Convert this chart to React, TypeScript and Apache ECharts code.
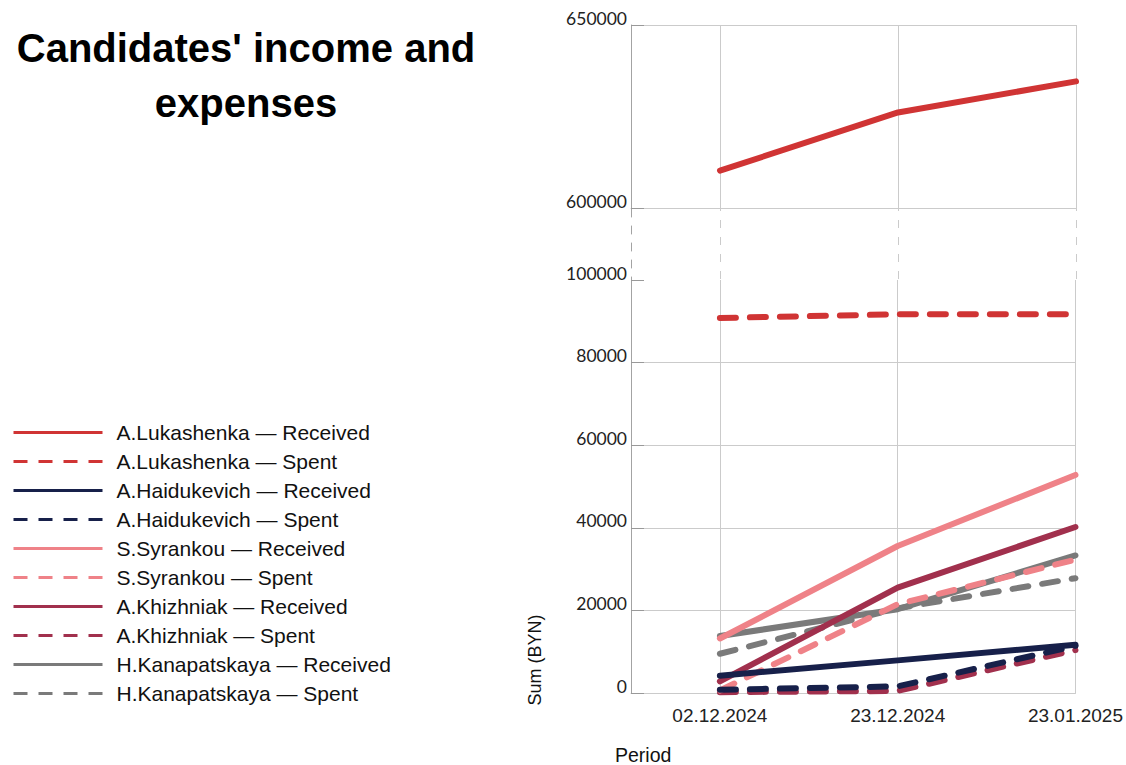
import React, { useEffect, useRef } from "react";
import * as echarts from "echarts";

const DATES = ["02.12.2024", "23.12.2024", "23.01.2025"];

const LUK_RECEIVED = [610200, 626100, 634600];
const LUK_SPENT = [90800, 91700, 91700];
const HAI_RECEIVED = [4200, 7900, 11700];
const HAI_SPENT = [800, 1600, 11400];
const SYR_RECEIVED = [13200, 35600, 52800];
const SYR_SPENT = [600, 21500, 32300];
const KHI_RECEIVED = [2800, 25500, 40200];
const KHI_SPENT = [200, 500, 10400];
const KAN_RECEIVED = [13800, 20300, 33300];
const KAN_SPENT = [9500, 20500, 27800];

const TOP_TICKS = [600000, 650000];
const BOTTOM_TICKS = [0, 20000, 40000, 60000, 80000, 100000];

const COLORS = {
  luk: "#d03434",
  hai: "#17204a",
  syr: "#ef8288",
  khi: "#a1304d",
  kan: "#7a7a7a",
};

const SERIES_DEFS = [
  { name: "A.Lukashenka — Received", color: COLORS.luk, dashed: false, data: LUK_RECEIVED, top: true },
  { name: "A.Lukashenka — Spent", color: COLORS.luk, dashed: true, data: LUK_SPENT, top: false },
  { name: "A.Haidukevich — Received", color: COLORS.hai, dashed: false, data: HAI_RECEIVED, top: false },
  { name: "A.Haidukevich — Spent", color: COLORS.hai, dashed: true, data: HAI_SPENT, top: false },
  { name: "S.Syrankou — Received", color: COLORS.syr, dashed: false, data: SYR_RECEIVED, top: false },
  { name: "S.Syrankou — Spent", color: COLORS.syr, dashed: true, data: SYR_SPENT, top: false },
  { name: "A.Khizhniak — Received", color: COLORS.khi, dashed: false, data: KHI_RECEIVED, top: false },
  { name: "A.Khizhniak — Spent", color: COLORS.khi, dashed: true, data: KHI_SPENT, top: false },
  { name: "H.Kanapatskaya — Received", color: COLORS.kan, dashed: false, data: KAN_RECEIVED, top: false },
  { name: "H.Kanapatskaya — Spent", color: COLORS.kan, dashed: true, data: KAN_SPENT, top: false },
];

// Each date gets a slot preceded by an empty half-step slot
const SLOTS = DATES.flatMap((d) => ["", d]);
const toSlots = (vals: number[]) => vals.flatMap((v) => [null, v]);

const GRID_LINE = "#cbcbcb";
const AXIS_LINE = "#a3a3a3";
const SANS = "Liberation Sans";

function buildOption() {
  const catAxis = (gridIndex: number, opts: any) => ({
    type: "category",
    gridIndex,
    data: SLOTS,
    boundaryGap: false,
    axisTick: { show: false },
    axisLabel: { show: false },
    axisLine: { show: true, lineStyle: { color: GRID_LINE, width: 1 } },
    splitLine: {
      show: true,
      interval: (i: number) => i % 2 === 1,
      lineStyle: { color: GRID_LINE, width: 1 },
    },
    ...opts,
  });

  const valAxis = (gridIndex: number, ticks: number[]) => ({
    type: "value",
    gridIndex,
    min: ticks[0],
    max: ticks[ticks.length - 1],
    interval: ticks[1] - ticks[0],
    axisLine: { show: true, lineStyle: { color: AXIS_LINE, width: 1 } },
    axisTick: { show: true, inside: true, length: 13, lineStyle: { color: "#999999" } },
    axisLabel: {
      show: true,
      fontFamily: "Lato",
      fontSize: 17.5,
      color: "#222222",
      margin: 4,
      verticalAlign: "bottom",
      lineHeight: 14,
      formatter: (v: number) => String(v),
    },
    splitLine: { show: true, showMaxLine: gridIndex === 0, lineStyle: { color: GRID_LINE, width: 1 } },
  });

  return {
    animation: false,
    backgroundColor: "#ffffff",
    grid: [
      { left: 631, right: 50, top: 25, height: 183 },
      { left: 631, right: 50, top: 208, height: 72 },
      { left: 631, right: 50, top: 280, height: 413 },
    ],
    xAxis: [
      catAxis(0, {}),
      catAxis(1, {
        axisLine: { show: false },
        splitLine: {
          show: true,
          interval: (i: number) => i % 2 === 1,
          lineStyle: { color: GRID_LINE, width: 1, type: [8, 9], dashOffset: -12 },
        },
      }),
      catAxis(2, {
        axisLabel: {
          show: true,
          interval: 0,
          fontFamily: SANS,
          fontSize: 19,
          color: "#222222",
          margin: 13,
        },
      }),
    ],
    yAxis: [
      valAxis(0, TOP_TICKS),
      {
        type: "value",
        gridIndex: 1,
        min: 0,
        max: 1,
        axisLine: { show: true, lineStyle: { color: AXIS_LINE, width: 1, type: [8, 9], dashOffset: -12 } },
        axisTick: { show: false },
        axisLabel: { show: false },
        splitLine: { show: false },
      },
      valAxis(2, BOTTOM_TICKS),
    ],
    legend: {
      orient: "vertical",
      left: 7,
      top: 417,
      itemWidth: 89,
      itemHeight: 20,
      itemGap: 8,
      selectedMode: false,
      textStyle: {
        fontFamily: SANS,
        fontSize: 21,
        color: "#111111",
        padding: [0, 0, 0, 9],
        lineHeight: 20,
      },
      data: SERIES_DEFS.map((s) => ({
        name: s.name,
        itemStyle: { opacity: 0 },
        lineStyle: { width: 3, type: s.dashed ? [14, 11] : "solid", cap: "butt", color: s.color, opacity: 1 },
      })),
    },
    graphic: [
      {
        type: "text",
        x: 246,
        y: 20,
        style: {
          text: "Candidates' income and\nexpenses",
          fontFamily: SANS,
          fontWeight: "bold",
          fontSize: 40,
          lineHeight: 55,
          fill: "#000000",
          align: "center",
          verticalAlign: "top",
        },
      },
      {
        type: "text",
        x: 535,
        y: 660,
        rotation: Math.PI / 2,
        style: {
          text: "Sum (BYN)",
          fontFamily: SANS,
          fontSize: 18,
          fill: "#111111",
          align: "center",
          verticalAlign: "middle",
        },
      },
      {
        type: "text",
        x: 615,
        y: 755,
        style: {
          text: "Period",
          fontFamily: SANS,
          fontSize: 19.5,
          fill: "#111111",
          align: "left",
          verticalAlign: "middle",
        },
      },
    ],
    series: SERIES_DEFS.map((s, i) => ({
      name: s.name,
      type: "line",
      xAxisIndex: s.top ? 0 : 2,
      yAxisIndex: s.top ? 0 : 2,
      data: toSlots(s.data),
      connectNulls: true,
      symbol: "none",
      showSymbol: false,
      z: 20 - i,
      color: s.color,
      lineStyle: {
        color: s.color,
        width: 6,
        type: s.dashed ? [16, 14] : "solid",
        cap: "round",
        join: "round",
      },
    })),
  };
}

export default function App() {
  const ref = useRef<HTMLDivElement>(null);
  useEffect(() => {
    if (!ref.current) return;
    const chart = echarts.init(ref.current, null, { renderer: "svg" });
    chart.setOption(buildOption() as any);
    return () => chart.dispose();
  }, []);
  return (
    <div
      ref={ref}
      style={{ position: "absolute", left: 0, top: 0, width: 1126, height: 765, background: "#fff" }}
    />
  );
}
